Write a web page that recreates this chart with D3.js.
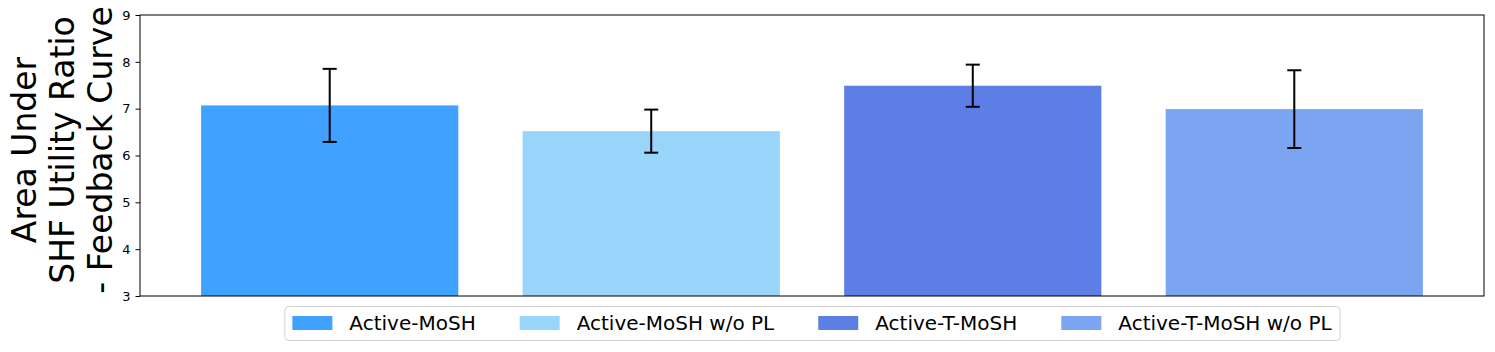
<!DOCTYPE html>
<html>
<head>
<meta charset="utf-8">
<script src="https://cdn.jsdelivr.net/npm/d3@7"></script>
<style>
  body { margin: 0; background: #fff; }
  text { font-family: "DejaVu Sans", sans-serif; }
</style>
</head>
<body>
<div id="chart"></div>
<script>
// Data
var methods = ["Active-MoSH", "Active-MoSH w/o PL", "Active-T-MoSH", "Active-T-MoSH w/o PL"];
var means = [7.07, 6.52, 7.49, 6.99];
var errors = [0.78, 0.46, 0.45, 0.83];
var colors = ["#1E90FF", "#87CEFA", "#4169E1", "#6495ED"];
var yTicks = [3, 4, 5, 6, 7, 8, 9];
var yLabelLines = ["Area Under", "SHF Utility Ratio", "- Feedback Curve"];

var W = 1495, H = 352;
var margin = {top: 15, right: 11, bottom: 56, left: 140};
var plotW = W - margin.left - margin.right,
    plotH = H - margin.top - margin.bottom;

var svg = d3.select("#chart").append("svg")
  .attr("width", W).attr("height", H);

var g = svg.append("g")
  .attr("transform", "translate(" + margin.left + "," + margin.top + ")");

var x = d3.scaleBand()
  .domain(methods)
  .range([0, plotW])
  .paddingInner(0.2)
  .paddingOuter(0.19);

var y = d3.scaleLinear()
  .domain([3, 9])
  .range([plotH, 0]);

// Bars
g.selectAll(".bar")
  .data(methods)
  .enter()
  .append("rect")
  .attr("class", "bar")
  .attr("x", function(d) { return x(d); })
  .attr("y", function(d, i) { return y(means[i]); })
  .attr("width", x.bandwidth())
  .attr("height", function(d, i) { return y(3) - y(means[i]); })
  .attr("fill", function(d, i) { return colors[i]; })
  .attr("fill-opacity", 0.85);

// Error bars
var capW = 7;
methods.forEach(function(m, i) {
  var cx = x(m) + x.bandwidth() / 2;
  var lo = y(means[i] - errors[i]), hi = y(means[i] + errors[i]);
  g.append("line").attr("x1", cx).attr("x2", cx).attr("y1", lo).attr("y2", hi)
    .attr("stroke", "#000").attr("stroke-width", 2);
  [lo, hi].forEach(function(v) {
    g.append("line").attr("x1", cx - capW).attr("x2", cx + capW).attr("y1", v).attr("y2", v)
      .attr("stroke", "#000").attr("stroke-width", 2);
  });
});

// Y axis
var yAxis = g.append("g")
  .attr("font-size", 13)
  .call(d3.axisLeft(y).tickValues(yTicks).tickFormat(d3.format("d")).tickSize(4.5).tickPadding(5));
yAxis.select(".domain").remove();
yAxis.selectAll("text").attr("font-size", 13).attr("fill", "#000");
yAxis.selectAll("line").attr("stroke", "#000");

// Frame
g.append("rect")
  .attr("x", 0).attr("y", 0).attr("width", plotW).attr("height", plotH)
  .attr("fill", "none").attr("stroke", "#000").attr("stroke-width", 1);

// Y label (three lines, rotated)
var yl = svg.append("text")
  .attr("transform", "rotate(-90)")
  .attr("text-anchor", "middle")
  .style("font-size", "33px");
yLabelLines.forEach(function(t, i) {
  yl.append("tspan")
    .attr("x", -150)
    .attr("y", 36 + i * 38)
    .text(t);
});

// Legend
var legend = svg.append("g");
var lx = 8;
methods.forEach(function(m, i) {
  var it = legend.append("g").attr("transform", "translate(" + lx + ",0)");
  it.append("rect").attr("x", 0).attr("y", 10).attr("width", 40).attr("height", 14)
    .attr("fill", colors[i]).attr("fill-opacity", 0.85);
  var t = it.append("text").attr("x", 57).attr("y", 24).style("font-size", "20px").text(m);
  lx += 57 + t.node().getComputedTextLength() + 44;
});
var legW = lx - 44 + 8;
legend.insert("rect", ":first-child")
  .attr("x", 0.5).attr("y", 0.5).attr("width", legW).attr("height", 34)
  .attr("rx", 4).attr("fill", "#fff").attr("stroke", "#d0d0d0").attr("stroke-width", 1);
legend.attr("transform", "translate(" + (margin.left + plotW / 2 - legW / 2) + ",306)");
</script>
</body>
</html>
